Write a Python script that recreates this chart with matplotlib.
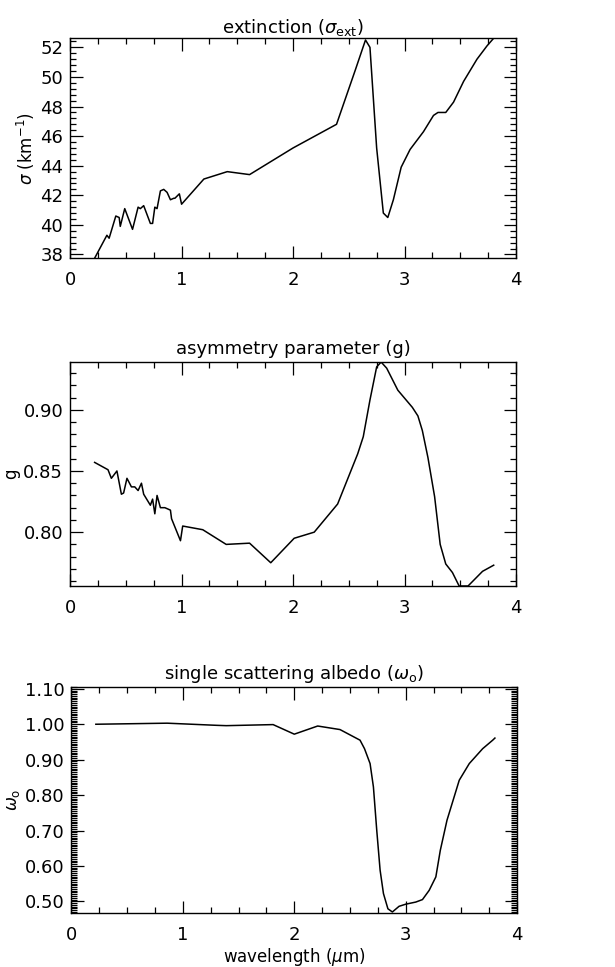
import numpy as np
import matplotlib
matplotlib.use("Agg")
import matplotlib.pyplot as plt
from matplotlib.ticker import MultipleLocator, FormatStrFormatter

# extinction coefficient (km^-1)
wl_ext = [0.22, 0.33, 0.35, 0.41, 0.44, 0.45, 0.49, 0.56, 0.61, 0.63, 0.66, 0.72, 0.74,
          0.76, 0.78, 0.81, 0.84, 0.87, 0.90, 0.93, 0.94, 0.98, 1.00, 1.20, 1.41, 1.61,
          2.00, 2.39, 2.56, 2.65, 2.69, 2.75, 2.81, 2.85, 2.90, 2.97, 3.05, 3.17, 3.26,
          3.30, 3.37, 3.44, 3.53, 3.65, 3.74, 3.80]
ext = [37.75, 39.3, 39.1, 40.6, 40.5, 39.9, 41.1, 39.7, 41.2, 41.1, 41.3, 40.1, 40.1,
       41.2, 41.1, 42.3, 42.4, 42.2, 41.7, 41.8, 41.8, 42.1, 41.4, 43.1, 43.6, 43.4,
       45.2, 46.8, 50.5, 52.5, 52.0, 45.2, 40.8, 40.5, 41.7, 43.9, 45.1, 46.3, 47.4,
       47.6, 47.6, 48.3, 49.7, 51.2, 52.1, 52.62]

# asymmetry parameter
wl_g = [0.22, 0.28, 0.34, 0.37, 0.42, 0.46, 0.48, 0.51, 0.55, 0.58, 0.61, 0.64, 0.66,
        0.72, 0.74, 0.76, 0.78, 0.81, 0.85, 0.90, 0.91, 0.99, 1.01, 1.19, 1.40, 1.61,
        1.80, 2.01, 2.19, 2.40, 2.58, 2.63, 2.69, 2.75, 2.79, 2.84, 2.94, 3.07, 3.12,
        3.16, 3.21, 3.27, 3.32, 3.37, 3.43, 3.49, 3.57, 3.70, 3.80]
g = [0.857, 0.854, 0.851, 0.844, 0.850, 0.831, 0.832, 0.844, 0.837, 0.837, 0.834, 0.840,
     0.831, 0.822, 0.827, 0.815, 0.830, 0.820, 0.820, 0.818, 0.811, 0.793, 0.805, 0.802,
     0.790, 0.791, 0.775, 0.795, 0.800, 0.823, 0.864, 0.878, 0.908, 0.935, 0.939, 0.934,
     0.916, 0.902, 0.895, 0.883, 0.861, 0.829, 0.790, 0.774, 0.767, 0.756, 0.756, 0.768,
     0.773]

# single scattering albedo
wl_w = [0.22, 0.86, 1.30, 1.39, 1.81, 2.00, 2.21, 2.41, 2.59, 2.63, 2.68, 2.71, 2.74,
        2.77, 2.80, 2.84, 2.88, 2.94, 3.00, 3.09, 3.15, 3.21, 3.27, 3.31, 3.37, 3.48,
        3.57, 3.69, 3.78, 3.80]
w0 = [1.000, 1.003, 0.997, 0.996, 0.999, 0.972, 0.995, 0.985, 0.955, 0.931, 0.889, 0.823,
      0.700, 0.588, 0.522, 0.479, 0.470, 0.486, 0.492, 0.498, 0.505, 0.531, 0.569, 0.644,
      0.729, 0.842, 0.889, 0.931, 0.955, 0.961]

plt.rcParams['font.family'] = 'DejaVu Sans'
plt.rcParams['mathtext.fontset'] = 'dejavusans'

fig = plt.figure(figsize=(6.15, 9.67), dpi=100)

def style(ax, ylim, major, minor, fmt):
    ax.set_xlim(0, 4)
    ax.set_ylim(*ylim)
    ax.xaxis.set_major_locator(MultipleLocator(1))
    ax.xaxis.set_minor_locator(MultipleLocator(0.25))
    ax.xaxis.set_major_formatter(FormatStrFormatter('%d'))
    ax.yaxis.set_major_locator(MultipleLocator(major))
    ax.yaxis.set_minor_locator(MultipleLocator(minor))
    ax.yaxis.set_major_formatter(FormatStrFormatter(fmt))
    ax.tick_params(which='both', direction='in', top=True, right=True, labelsize=13, width=0.9)
    ax.tick_params(which='major', length=9, pad=5)
    ax.tick_params(which='minor', length=4.5)
    ax.tick_params(axis='x', which='major', pad=9)
    for s in ax.spines.values():
        s.set_linewidth(1.0)

# extinction
ax1 = fig.add_axes([0.114, 0.733, 0.725, 0.2275])
ax1.plot(wl_ext, ext, color='black', lw=1.1)
style(ax1, (37.75, 52.62), 2, 0.4, '%d')
ax1.set_title(r'extinction ($\sigma_{\rm ext}$)', fontsize=13, pad=4)
ax1.set_ylabel(r'$\sigma$ (km$^{-1}$)', fontsize=12)
ax1.yaxis.set_label_coords(-0.074, 0.5)

# asymmetry parameter
ax2 = fig.add_axes([0.114, 0.394, 0.725, 0.2316])
ax2.plot(wl_g, g, color='black', lw=1.1)
style(ax2, (0.756, 0.939), 0.05, 0.01, '%.2f')
ax2.set_title('asymmetry parameter (g)', fontsize=13, pad=6)
ax2.set_ylabel('g', fontsize=12)
ax2.yaxis.set_label_coords(-0.112, 0.5)

# single scattering albedo
ax3 = fig.add_axes([0.116, 0.0558, 0.725, 0.2337])
ax3.plot(wl_w, w0, color='black', lw=1.1)
style(ax3, (0.467, 1.105), 0.1, 0.005, '%.2f')
ax3.set_title(r'single scattering albedo ($\omega_{\rm o}$)', fontsize=13, pad=6)
ax3.set_ylabel(r'$\omega_{\rm o}$', fontsize=12)
ax3.yaxis.set_label_coords(-0.11, 0.5)
ax3.set_xlabel(r'wavelength ($\mu$m)', fontsize=12, labelpad=2)

fig.savefig('out.png', dpi=100)
